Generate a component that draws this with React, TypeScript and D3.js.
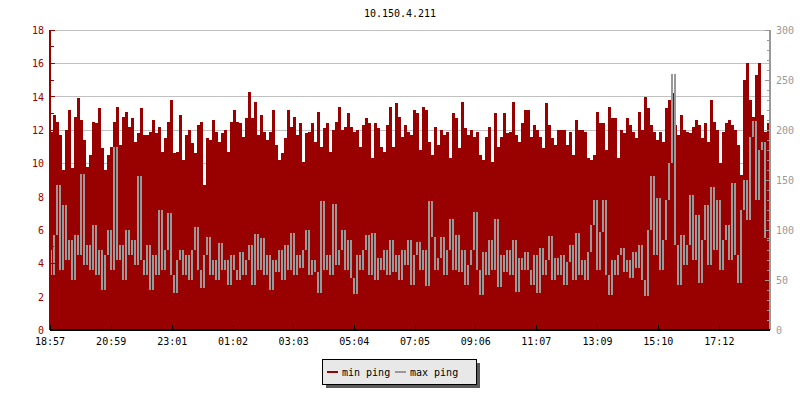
import * as d3 from "d3";

const chartTitle = "10.150.4.211";
const startClock = "18:57";
const endClock = "18:53";
const timeTickLabels = ["18:57", "20:59", "23:01", "01:02", "03:03", "05:04", "07:05", "09:06", "11:07", "13:09", "15:10", "17:12"];
const leftTicks = [0, 2, 4, 6, 8, 10, 12, 14, 16, 18];
const rightTicks = [0, 50, 100, 150, 200, 250, 300];
const seriesNames = ["min ping", "max ping"];

const minPingEvening = [11.9, 12.9, 12.5, 11.7, 9.6, 12, 13.2, 9.7, 12.8, 13.9, 12.6, 11.4, 9.8, 10.5, 12.5, 12.4, 13.3, 10.9, 9.6, 10.5, 11.0, 12.5, 13.4, 11.1, 12.8, 13.1, 12.2, 12.7, 11.3, 11.8, 13.3, 11.7, 11.7, 11.9, 12.6, 11.8, 12.2, 10.7, 11.5, 12.5, 13.8, 10.6, 10.7, 12.9, 10.2, 11.7, 12, 11.2, 10.6, 12.3, 12.5, 8.7, 11.5, 11.4, 12.6, 11.9, 11.3, 11.8, 12, 10.7, 12.5, 13.2, 12.5, 12.4, 11.6, 12.7, 14.3, 12.7, 13.7, 11.7, 12.9, 11.9, 11.4, 11.9, 13.2, 11.1, 10.2, 10.6, 11.5, 13.2];
const minPingNight = [12.2, 12.8, 11.7, 12.4, 10.1, 11.8, 11.9, 12.4, 11.3, 13.1, 11, 12.1, 12.4, 10.7, 12, 12.5, 13.4, 12, 12.2, 13, 12.2, 11.9, 12, 11, 12.3, 12.7, 12.4, 10.3, 12.4, 12.1, 11, 10.7, 12.3, 13.4, 11, 13.6, 12.8, 11.6, 12.3, 11.9, 11.7, 13.2, 13, 10.8, 13.4, 13.2, 11.3, 10.5, 12.2, 11.1, 12, 11.7, 11.9, 10.3, 13, 12.7, 10.9, 13.7, 12.1, 11.7, 12, 11.6, 11.9, 10.5, 10.2, 11.6, 12.2, 10.1, 13, 11, 11.6, 13, 11.8, 11.9, 13.7, 11.7, 11.3, 12.4, 13.2, 13.2];
const minPingDay = [11.6, 12.3, 12, 11.6, 10.9, 13.6, 12.3, 11.5, 11.1, 12, 12, 12, 11.1, 11.9, 10.5, 12.6, 12, 12, 11.9, 10.3, 10.2, 10.5, 13.1, 12.4, 12.4, 10.8, 13.4, 12.7, 12.7, 10.3, 12, 11.8, 12.7, 12.3, 11.9, 11.5, 13.1, 12, 14, 13.3, 12.3, 11.9, 11.4, 11.9, 11.3, 13.3, 13.8, 14.2, 12.3, 11.7, 12.9, 12, 11.9, 11.8, 12.2, 12.6, 12.3, 11.5, 12.4, 11.3, 13.8, 12.5, 12, 10, 11.9, 12.4, 12.6, 12.3, 12, 11.1, 9.3, 15.0, 16, 13.8, 12.8, 15.3, 16, 12.9, 11.9, 12.4];

// max ping (right axis)
const maxPingEvening = [80, 55, 95, 145, 60, 125, 70, 90, 50, 95, 75, 156, 65, 85, 60, 105, 55, 80, 40, 75, 100, 60, 183, 70, 85, 50, 100, 75, 90, 65, 154, 70, 55, 85, 40, 75, 55, 120, 60, 80, 117, 55, 37, 70, 80, 55, 75, 50, 80, 103, 60, 42, 75, 93, 55, 70, 50, 87, 60, 70, 45, 75, 60, 50, 78, 55, 70, 85, 45, 96, 60, 92, 55, 75, 40, 70, 58, 80, 50, 85];
const maxPingNight = [60, 97, 55, 75, 62, 80, 100, 55, 70, 58, 37, 129, 60, 75, 55, 126, 65, 80, 100, 60, 90, 52, 36, 75, 60, 80, 95, 55, 97, 50, 72, 60, 80, 55, 90, 58, 75, 50, 80, 65, 90, 45, 75, 88, 60, 80, 44, 129, 93, 60, 72, 93, 55, 80, 111, 60, 95, 58, 80, 45, 65, 80, 118, 60, 35, 78, 55, 90, 60, 111, 43, 75, 58, 80, 55, 90, 38, 72, 60, 78];
const maxPingDay = [60, 45, 75, 37, 82, 55, 70, 94, 50, 72, 55, 75, 45, 68, 85, 50, 97, 55, 70, 50, 78, 105, 130, 60, 98, 130, 55, 35, 70, 55, 75, 82, 58, 70, 52, 78, 62, 85, 50, 34, 100, 154, 75, 132, 60, 90, 130, 167, 256, 85, 45, 95, 65, 85, 135, 70, 115, 47, 90, 125, 65, 143, 80, 130, 60, 90, 105, 70, 147, 75, 47, 120, 150, 110, 193, 209, 130, 180, 188, 92];

const minPing = [...minPingEvening, ...minPingNight, ...minPingDay];
const maxPing = [...maxPingEvening, ...maxPingNight, ...maxPingDay];

const RED = "#990000";
const GRAY = "#999999";
const FONT = "'DejaVu Sans Mono', monospace";

const clockToMin = (s: string) => {
  const [h, m] = s.split(":").map(Number);
  return h * 60 + m;
};
const sinceStart = (s: string) => (clockToMin(s) - clockToMin(startClock) + 1440) % 1440;

export default function App() {
  const width = 800;
  const height = 400;
  const margin = { top: 30, right: 30, bottom: 70, left: 50 };
  const x0 = margin.left;
  const x1 = width - margin.right;
  const yBottom = height - margin.bottom;

  const span = sinceStart(endClock);
  const x = d3.scaleLinear().domain([0, span]).range([x0, x1]);
  const yL = d3.scaleLinear().domain([0, 18]).range([yBottom, margin.top]);
  const yR = d3.scaleLinear().domain([0, 300]).range([yBottom, margin.top]);

  const n = minPing.length;
  const step = span / n;
  const minPts = [...minPing, minPing[n - 1]];

  const area = d3
    .area<number>()
    .x((_, i) => x(i * step))
    .y0(yL(0))
    .y1((d) => yL(d))
    .curve(d3.curveStepAfter);

  // max ping: each sample drawn as a thin vertical stroke joining it to the next one
  const maxBars = maxPing.map((v, i) => {
    const next = maxPing[i + 1] ?? v;
    const top = yR(Math.max(v, next));
    const bottom = yR(Math.min(v, next));
    return { x: x(i * step), y: top, h: Math.max(1, bottom - top) };
  });

  const leftMinor = d3.range(0, 19, 1);
  const rightMinor = d3.range(0, 301, 10);

  const lg = { x: 322, y: 359, w: 154, h: 25 };

  return (
    <svg
      width={width}
      height={height}
      style={{ position: "absolute", left: 0, top: 0, background: "#fff" }}
      fontFamily={FONT}
      fontSize={10}
    >
      <text x={width / 2} y={17} textAnchor="middle" fill="#000">
        {chartTitle}
      </text>

      {/* grid */}
      <g shapeRendering="crispEdges">
        {leftTicks.map((t) => (
          <line key={t} x1={x0} x2={x1} y1={yL(t)} y2={yL(t)} stroke="#c0c0c0" />
        ))}
      </g>

      <path d={area(minPts) ?? ""} fill={RED} shapeRendering="crispEdges" />
      <g fill={GRAY} shapeRendering="crispEdges">
        {maxBars.map((b, i) => (
          <rect key={i} x={b.x} y={b.y} width={2} height={b.h} />
        ))}
      </g>

      {/* left axis */}
      <g shapeRendering="crispEdges">
        <line x1={x0} x2={x0} y1={yL(18)} y2={yL(0)} stroke={RED} strokeWidth={1.5} />
        {leftMinor.map((t) => (
          <line key={t} x1={x0} x2={x0 + (t % 2 === 0 ? 5 : 4)} y1={yL(t)} y2={yL(t)} stroke={RED} />
        ))}
      </g>
      {leftTicks.map((t) => (
        <text key={t} x={x0 - 6} y={yL(t) + 4} textAnchor="end" fill={RED}>
          {t}
        </text>
      ))}

      {/* right axis */}
      <g shapeRendering="crispEdges">
        <line x1={x1} x2={x1} y1={yR(300)} y2={yR(0)} stroke={GRAY} strokeWidth={1.5} />
        {rightMinor.map((t) => (
          <line key={t} x1={x1} x2={x1 - (t % 50 === 0 ? 5 : 3)} y1={yR(t)} y2={yR(t)} stroke={GRAY} />
        ))}
      </g>
      {rightTicks.map((t) => (
        <text key={t} x={x1 + 6} y={yR(t) + 4} textAnchor="start" fill={GRAY}>
          {t}
        </text>
      ))}

      {/* time axis */}
      <g shapeRendering="crispEdges">
        <line x1={x0} x2={x1} y1={yBottom} y2={yBottom} stroke="#000" strokeWidth={1.5} />
        {timeTickLabels.map((l) => (
          <line key={l} x1={x(sinceStart(l))} x2={x(sinceStart(l))} y1={yBottom} y2={yBottom - 5} stroke="#000" />
        ))}
      </g>
      {timeTickLabels.map((l) => (
        <text key={l} x={x(sinceStart(l))} y={yBottom + 15} textAnchor="middle" fill="#000">
          {l}
        </text>
      ))}

      {/* legend */}
      <g shapeRendering="crispEdges">
        <rect x={lg.x + 4} y={lg.y + 4} width={lg.w} height={lg.h} fill="#5a5a5a" />
        <rect x={lg.x} y={lg.y} width={lg.w} height={lg.h} fill="#e8e8e8" stroke="#000" />
        <line x1={lg.x + 5} x2={lg.x + 16} y1={lg.y + 13} y2={lg.y + 13} stroke={RED} strokeWidth={2} />
        <line x1={lg.x + 73} x2={lg.x + 84} y1={lg.y + 13} y2={lg.y + 13} stroke={GRAY} strokeWidth={2} />
      </g>
      <text x={lg.x + 20} y={lg.y + 17} fill="#000">
        {seriesNames[0]}
      </text>
      <text x={lg.x + 88} y={lg.y + 17} fill="#000">
        {seriesNames[1]}
      </text>
    </svg>
  );
}
